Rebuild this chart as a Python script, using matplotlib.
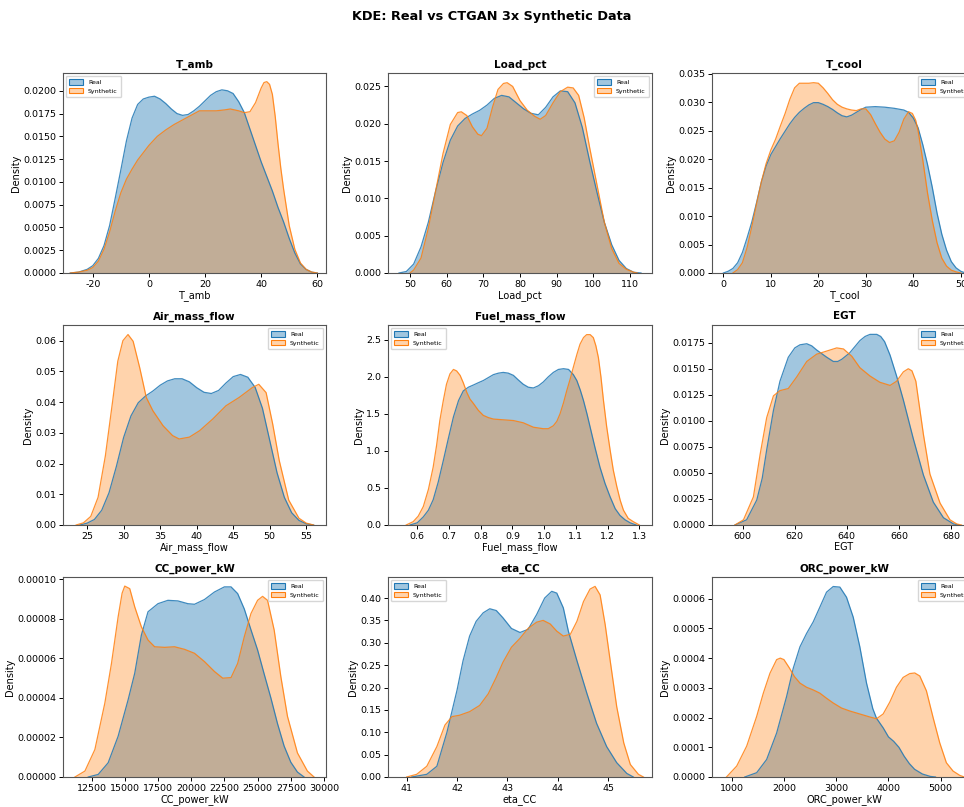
import matplotlib
matplotlib.use("Agg")
import matplotlib.pyplot as plt
from matplotlib.patches import Patch
from matplotlib.colors import to_rgb
import numpy as np

# ---------------- data ----------------
features = ["T_amb", "Load_pct", "T_cool", "Air_mass_flow", "Fuel_mass_flow",
            "EGT", "CC_power_kW", "eta_CC", "ORC_power_kW"]

tamb_real = [[-28,0],[-25,0.0001],[-22,0.0004],[-20,0.0008],[-18,0.0016],[-16,0.003],[-14,0.0052],[-12,0.0082],[-10,0.0113],[-8,0.0145],[-6,0.0170],[-4,0.0185],[-2,0.0191],[0,0.0193],[2,0.0194],[4,0.0191],[6,0.0186],[8,0.0180],[10,0.0175],[12,0.0173],[14,0.0174],[16,0.0178],[18,0.0183],[20,0.0189],[22,0.0195],[24,0.0199],[26,0.0201],[28,0.0200],[30,0.0197],[32,0.0188],[34,0.0176],[36,0.0158],[38,0.0140],[40,0.0122],[42,0.0106],[44,0.0090],[46,0.0072],[48,0.0056],[50,0.0038],[52,0.0022],[54,0.0010],[56,0.0004],[58,0.0001],[60,0.0]]
tamb_syn = [[-28,0],[-25,0.0001],[-22,0.0003],[-20,0.0006],[-18,0.0013],[-16,0.0026],[-14,0.0045],[-12,0.0068],[-10,0.0088],[-8,0.0103],[-6,0.0114],[-4,0.0124],[-2,0.0132],[0,0.0140],[3,0.0150],[6,0.0157],[9,0.0163],[12,0.0168],[15,0.0173],[18,0.0178],[21,0.0178],[24,0.0178],[27,0.0179],[29,0.0180],[32,0.0178],[34,0.0176],[36,0.0177],[38,0.0187],[40,0.0203],[41,0.0209],[42,0.0210],[43,0.0207],[44,0.0196],[45,0.0172],[46,0.0142],[47,0.0115],[48,0.0092],[50,0.0052],[52,0.0026],[54,0.0011],[56,0.0004],[58,0.0001],[60,0.0]]

load_real = [[47,0],[49,0.0002],[51,0.0012],[53,0.0035],[55,0.0068],[57,0.0110],[59,0.0148],[61,0.0178],[63,0.0197],[65,0.0207],[67,0.0213],[69,0.0218],[71,0.0225],[73,0.0234],[75,0.0238],[77,0.0236],[79,0.0228],[81,0.0220],[83,0.0214],[85,0.0212],[87,0.0222],[89,0.0236],[91,0.0244],[93,0.0243],[95,0.0228],[97,0.0195],[99,0.0150],[101,0.0108],[103,0.0068],[105,0.0038],[107,0.0017],[109,0.0006],[111,0.0001],[113,0]]
load_syn = [[50,0],[51,0.0004],[53,0.0020],[55,0.0060],[57,0.0110],[59,0.0160],[61,0.0199],[63,0.0215],[64,0.0216],[65.5,0.0211],[67,0.0196],[68.5,0.0186],[69.5,0.0184],[71,0.0194],[72.5,0.0222],[74,0.0246],[75.5,0.0254],[76.5,0.0255],[78,0.0250],[80,0.0231],[82,0.0218],[84,0.0210],[85.5,0.0206],[87,0.0211],[89,0.0228],[91,0.0243],[93,0.0249],[94.5,0.0248],[96,0.0238],[97.5,0.0208],[99,0.0168],[101,0.0118],[103,0.0068],[105,0.0033],[107,0.0013],[109,0.0005],[111,0.0001],[112,0]]

tcool_real = [[0,0],[1,0.0003],[2,0.0008],[3,0.0018],[4,0.0036],[5,0.0062],[6,0.0090],[7,0.0124],[8,0.0160],[9,0.0188],[10,0.0208],[11,0.0222],[12,0.0236],[13,0.0249],[14,0.0262],[15,0.0273],[16,0.0282],[17,0.0289],[18,0.0295],[19,0.0299],[20,0.0299],[21,0.0296],[22,0.0292],[23,0.0287],[24,0.0281],[25,0.0276],[26,0.0274],[27,0.0277],[28,0.0282],[29,0.0287],[30,0.0291],[32,0.0292],[34,0.0291],[36,0.0289],[38,0.0286],[39,0.0282],[40,0.0272],[41,0.0255],[42,0.0225],[43,0.0190],[44,0.0150],[45,0.0105],[46,0.0068],[47,0.0040],[48,0.0020],[49,0.0009],[50,0.0003],[51,0]]
tcool_syn = [[2,0],[3,0.0006],[4,0.0018],[5,0.0045],[6,0.0082],[7,0.0122],[8,0.0160],[9,0.0192],[10,0.0216],[11,0.0235],[12,0.0258],[13,0.0280],[14,0.0305],[15,0.0325],[16,0.0333],[17,0.0333],[18,0.0333],[19,0.0334],[20,0.0333],[21,0.0325],[22,0.0315],[23,0.0304],[24,0.0296],[25,0.0291],[26,0.0288],[27,0.0286],[28,0.0285],[29,0.0288],[30,0.0288],[31,0.0278],[32,0.0262],[33,0.0247],[34,0.0235],[35,0.0229],[36,0.0232],[37,0.0247],[38,0.0270],[39,0.0283],[39.8,0.0280],[40.5,0.0268],[41,0.0250],[42,0.0198],[43,0.0140],[44,0.0092],[45,0.0053],[46,0.0026],[47,0.0012],[48,0.0005],[49,0.0002],[50,0]]

air_real = [[24,0],[25,0.0006],[26,0.0018],[27,0.0048],[28,0.0105],[29,0.0190],[30,0.0285],[31,0.0355],[32,0.0398],[33,0.0420],[34,0.0436],[35,0.0455],[36,0.0469],[37,0.0476],[38,0.0476],[39,0.0466],[40,0.0447],[41,0.0432],[42,0.0428],[43,0.0438],[44,0.0462],[45,0.0483],[46,0.0490],[47,0.0481],[48,0.0448],[49,0.0380],[50,0.0275],[51,0.0170],[52,0.0090],[53,0.0040],[54,0.0015],[55,0.0004],[56,0]]
air_syn = [[23.5,0],[24.5,0.0007],[25.5,0.0028],[26.5,0.0090],[27.5,0.0225],[28.5,0.0404],[29.2,0.0533],[29.9,0.0600],[30.6,0.0620],[31.3,0.0598],[32.2,0.0512],[33.1,0.0415],[34,0.0372],[35.4,0.0323],[36.7,0.0291],[37.6,0.0280],[39,0.0286],[40.4,0.0307],[42.2,0.0345],[44,0.0388],[45.8,0.0415],[47.6,0.0447],[48.5,0.0458],[49.5,0.0431],[50.4,0.0329],[51.3,0.0210],[52.6,0.0081],[54,0.0022],[55,0.0006],[56,0]]

fuel_real = [[0.577,0],[0.6,0.03],[0.619,0.11],[0.635,0.20],[0.65,0.34],[0.666,0.58],[0.682,0.87],[0.698,1.17],[0.714,1.46],[0.73,1.68],[0.745,1.81],[0.761,1.86],[0.777,1.89],[0.792,1.92],[0.808,1.95],[0.824,1.99],[0.84,2.03],[0.856,2.05],[0.871,2.06],[0.887,2.05],[0.903,2.02],[0.918,1.96],[0.934,1.90],[0.95,1.86],[0.966,1.85],[0.982,1.88],[0.997,1.93],[1.013,2.00],[1.029,2.06],[1.045,2.10],[1.061,2.11],[1.077,2.10],[1.092,2.03],[1.103,1.95],[1.114,1.82],[1.124,1.68],[1.135,1.50],[1.145,1.32],[1.16,1.05],[1.176,0.78],[1.192,0.56],[1.208,0.38],[1.224,0.22],[1.239,0.13],[1.255,0.07],[1.271,0.03],[1.29,0]]
fuel_syn = [[0.565,0],[0.587,0.045],[0.603,0.12],[0.619,0.25],[0.635,0.48],[0.65,0.78],[0.661,1.08],[0.671,1.41],[0.682,1.68],[0.692,1.90],[0.703,2.04],[0.714,2.10],[0.724,2.08],[0.735,2.02],[0.745,1.92],[0.756,1.79],[0.766,1.70],[0.777,1.64],[0.792,1.55],[0.808,1.48],[0.824,1.45],[0.84,1.43],[0.871,1.42],[0.903,1.41],[0.934,1.38],[0.966,1.32],[0.997,1.30],[1.013,1.30],[1.029,1.34],[1.04,1.40],[1.05,1.50],[1.061,1.65],[1.071,1.81],[1.082,1.97],[1.092,2.13],[1.103,2.30],[1.113,2.44],[1.124,2.53],[1.134,2.57],[1.145,2.57],[1.155,2.53],[1.163,2.42],[1.171,2.26],[1.179,2.00],[1.187,1.68],[1.197,1.33],[1.208,1.01],[1.218,0.74],[1.229,0.52],[1.24,0.33],[1.25,0.20],[1.265,0.09],[1.281,0.045],[1.30,0]]

egt_real = [[597,0],[601.5,0.0005],[605.4,0.0024],[607.5,0.0045],[609.2,0.0072],[611.8,0.0110],[614.3,0.0138],[617.5,0.0161],[620,0.0170],[622,0.0173],[624.6,0.0174],[626.5,0.0172],[628.4,0.0168],[632.3,0.0161],[634.8,0.0157],[636.5,0.0157],[638,0.0159],[641,0.0165],[643,0.0171],[645,0.0177],[647,0.0181],[648.9,0.0183],[651.5,0.0183],[653,0.0181],[654.5,0.0176],[656.6,0.0163],[659.1,0.0143],[661.7,0.0120],[665.5,0.0083],[669.4,0.0048],[673.2,0.0022],[677.1,0.0007],[681,0.0001],[683,0]]
egt_syn = [[597,0],[600.3,0.0005],[604.1,0.0027],[606.7,0.0068],[609.2,0.0103],[611.8,0.0124],[614.3,0.0129],[617.5,0.0131],[620.7,0.0142],[624.6,0.0157],[628.4,0.0164],[632.3,0.0167],[636.1,0.0170],[638.7,0.0169],[641.9,0.0162],[645,0.0151],[648.9,0.0143],[652.7,0.0137],[656.6,0.0134],[659.1,0.0138],[661.7,0.0147],[663.6,0.0150],[665,0.0148],[666.5,0.0138],[667.4,0.0122],[669.4,0.0087],[671.9,0.0049],[675.8,0.0021],[679.6,0.0005],[682.2,0.0001],[684,0]]

cc_real = [[12250,0],[13000,0.0000013],[13750,0.0000072],[14500,0.0000206],[15250,0.000039],[15750,0.0000525],[16250,0.0000718],[16750,0.0000836],[17500,0.0000877],[18250,0.0000894],[19000,0.0000891],[19750,0.0000877],[20250,0.0000874],[21000,0.0000898],[21750,0.0000936],[22500,0.0000962],[23000,0.0000962],[23500,0.0000928],[24000,0.000085],[24500,0.0000745],[25000,0.0000643],[25500,0.000052],[26000,0.00004],[26500,0.000027],[27000,0.0000156],[27500,0.0000075],[28000,0.0000025],[28500,0]]
cc_syn = [[11250,0],[12000,0.000003],[12750,0.0000139],[13500,0.0000374],[14000,0.0000575],[14500,0.000081],[14800,0.000093],[15000,0.0000966],[15375,0.0000953],[15750,0.0000861],[16250,0.000076],[16750,0.0000693],[17250,0.0000659],[18000,0.0000656],[18750,0.0000659],[19500,0.0000646],[20250,0.0000626],[21000,0.0000584],[21750,0.0000534],[22375,0.00005],[23000,0.0000503],[23500,0.0000575],[24000,0.000071],[24500,0.0000827],[25000,0.0000894],[25375,0.0000914],[25750,0.0000894],[26250,0.0000743],[26750,0.0000508],[27250,0.0000307],[28000,0.0000122],[28750,0.000003],[29250,0]]

eta_real = [[41.1,0],[41.4,0.006],[41.6,0.024],[41.8,0.10],[42.0,0.194],[42.12,0.26],[42.25,0.315],[42.38,0.348],[42.52,0.367],[42.65,0.376],[42.78,0.372],[42.91,0.356],[43.08,0.332],[43.25,0.323],[43.41,0.33],[43.58,0.363],[43.74,0.40],[43.88,0.415],[43.98,0.411],[44.11,0.378],[44.21,0.326],[44.38,0.26],[44.58,0.186],[44.77,0.12],[44.97,0.068],[45.17,0.032],[45.37,0.008],[45.5,0]]
eta_syn = [[41.0,0],[41.2,0.006],[41.4,0.024],[41.6,0.068],[41.76,0.116],[41.9,0.135],[42.05,0.138],[42.25,0.146],[42.45,0.16],[42.62,0.186],[42.78,0.223],[42.91,0.256],[43.08,0.29],[43.25,0.31],[43.41,0.332],[43.58,0.346],[43.71,0.35],[43.85,0.342],[43.98,0.326],[44.11,0.315],[44.25,0.319],[44.38,0.348],[44.51,0.392],[44.64,0.42],[44.74,0.426],[44.84,0.407],[44.94,0.341],[45.04,0.26],[45.17,0.157],[45.31,0.076],[45.44,0.028],[45.6,0.006],[45.7,0]]

orc_real = [[1250,0],[1478,0.0000145],[1669,0.000059],[1860,0.000148],[2051,0.000271],[2178,0.000366],[2306,0.000438],[2433,0.000483],[2560,0.000522],[2688,0.000572],[2815,0.000622],[2943,0.000641],[3070,0.000639],[3197,0.000605],[3325,0.000538],[3452,0.000438],[3580,0.000316],[3700,0.00023],[3770,0.000198],[3900,0.000165],[4000,0.000135],[4100,0.00012],[4200,0.0001],[4300,0.00007],[4400,0.000045],[4500,0.000026],[4650,0.00001],[4800,0.000002],[4900,0]]
orc_syn = [[900,0],[1096,0.0000368],[1287,0.000104],[1478,0.000204],[1605,0.000282],[1732,0.000349],[1860,0.000395],[1930,0.0004],[2000,0.000395],[2100,0.000368],[2200,0.000338],[2306,0.000316],[2433,0.000302],[2560,0.000293],[2688,0.000282],[2815,0.000265],[2943,0.000249],[3102,0.000232],[3261,0.000222],[3452,0.000212],[3643,0.000202],[3771,0.000196],[3898,0.000212],[4025,0.000252],[4153,0.000302],[4280,0.000335],[4408,0.000348],[4503,0.00035],[4599,0.00034],[4726,0.00029],[4854,0.0002],[4981,0.000115],[5108,0.000048],[5236,0.00002],[5363,0.0000056],[5450,0]]

real_curves = [tamb_real, load_real, tcool_real, air_real, fuel_real, egt_real, cc_real, eta_real, orc_real]
syn_curves = [tamb_syn, load_syn, tcool_syn, air_syn, fuel_syn, egt_syn, cc_syn, eta_syn, orc_syn]

x_ticks = [[-20, 0, 20, 40, 60], [50, 60, 70, 80, 90, 100, 110], [0, 10, 20, 30, 40, 50],
           [25, 30, 35, 40, 45, 50, 55], [0.6, 0.7, 0.8, 0.9, 1.0, 1.1, 1.2, 1.3], [600, 620, 640, 660, 680],
           [12500, 15000, 17500, 20000, 22500, 25000, 27500, 30000], [41, 42, 43, 44, 45], [1000, 2000, 3000, 4000, 5000]]
y_ticks = [[0, 0.0025, 0.005, 0.0075, 0.01, 0.0125, 0.015, 0.0175, 0.02],
           [0, 0.005, 0.01, 0.015, 0.02, 0.025],
           [0, 0.005, 0.01, 0.015, 0.02, 0.025, 0.03, 0.035],
           [0, 0.01, 0.02, 0.03, 0.04, 0.05, 0.06],
           [0, 0.5, 1.0, 1.5, 2.0, 2.5],
           [0, 0.0025, 0.005, 0.0075, 0.01, 0.0125, 0.015, 0.0175],
           [0, 0.00002, 0.00004, 0.00006, 0.00008, 0.0001],
           [0, 0.05, 0.1, 0.15, 0.2, 0.25, 0.3, 0.35, 0.4],
           [0, 0.0001, 0.0002, 0.0003, 0.0004, 0.0005, 0.0006]]
y_fmt = ["%.4f", "%.3f", "%.3f", "%.2f", "%.1f", "%.4f", "%.5f", "%.2f", "%.4f"]
x_fmt = ["%d", "%d", "%d", "%d", "%.1f", "%d", "%d", "%d", "%d"]

x_limits = [(-30.6, 63.1), (44.0, 116.0), (-2.4, 53.2), (21.7, 57.7), (0.5076, 1.340),
            (588.2, 689.6), (10350, 30150), (40.63, 45.87), (623, 5675)]
y_limits = [0.02195, 0.0268, 0.0351, 0.0651, 2.70, 0.0192, 0.0001012, 0.447, 0.000673]
legend_loc = ["upper left", "upper right", "upper right", "upper right", "upper left",
              "upper right", "upper right", "upper left", "upper right"]

# ---------------- figure ----------------
W, H = 964, 807
fig = plt.figure(figsize=(W / 100, H / 100), dpi=100)
col_left = [63, 388, 712]
col_width = [263, 264, 264]
row_bottom = [273, 525, 777]
row_height = 200

c_real = "#1f77b4"
c_syn = "#ff7f0e"
alpha_real = 0.42
alpha_syn = 0.34

for i, name in enumerate(features):
    r, c = divmod(i, 3)
    ax = fig.add_axes([col_left[c] / W, 1 - row_bottom[r] / H, col_width[c] / W, row_height / H])
    for curve, col, a in ((real_curves[i], c_real, alpha_real), (syn_curves[i], c_syn, alpha_syn)):
        arr = np.array(curve, dtype=float)
        ax.fill_between(arr[:, 0], arr[:, 1], color=col, alpha=a, linewidth=0)
        ax.plot(arr[:, 0], arr[:, 1], color=col, lw=0.9, alpha=0.85)
    ax.set_xlim(*x_limits[i])
    ax.set_ylim(0, y_limits[i])
    ax.set_xticks(x_ticks[i])
    ax.set_xticklabels([x_fmt[i] % v for v in x_ticks[i]])
    ax.set_yticks(y_ticks[i])
    ax.set_yticklabels([y_fmt[i] % v for v in y_ticks[i]])
    ax.tick_params(labelsize=6.8, length=3, width=0.7, pad=2)
    for s in ax.spines.values():
        s.set_linewidth(0.8)
        s.set_color("#555555")
    ax.set_title(name, fontsize=7.5, fontweight="bold", pad=4)
    ax.set_xlabel(name, fontsize=7, labelpad=1)
    ax.set_ylabel("Density", fontsize=7, labelpad=1.5)
    handles = [Patch(facecolor=(*to_rgb(c_real), alpha_real), edgecolor=c_real, lw=0.8),
               Patch(facecolor=(*to_rgb(c_syn), alpha_syn), edgecolor=c_syn, lw=0.8)]
    ax.legend(handles, ["Real", "Synthetic"], loc=legend_loc[i], fontsize=4.5,
              handlelength=2.2, handleheight=1.0, borderpad=0.5, labelspacing=0.4)

fig.text(0.51, 0.979, "KDE: Real vs CTGAN 3x Synthetic Data", fontsize=9.3,
         fontweight="bold", ha="center", va="center")
fig.savefig("out.png", dpi=100)
